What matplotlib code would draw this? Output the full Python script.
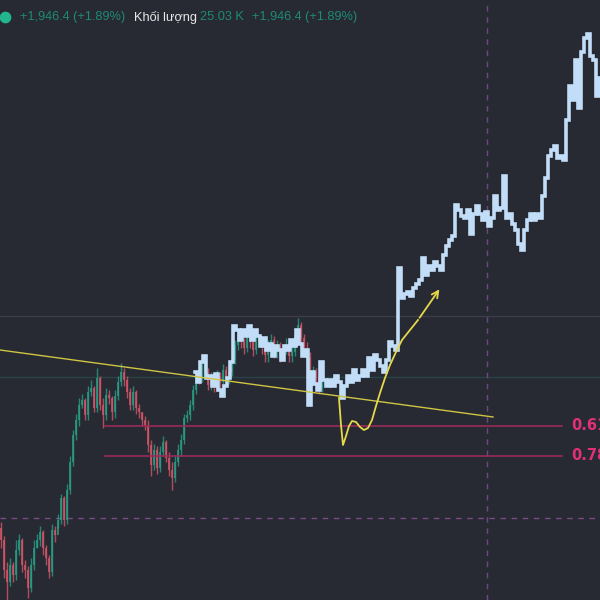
import numpy as np
import matplotlib
matplotlib.use("Agg")
import matplotlib.pyplot as plt

# ---- data (vertical values in chart pixel units, 0 = top) ----
candle_x0, candle_step = 1, 3
candle_open0 = 528
candle_close = [540, 570, 582, 565, 575, 550, 540, 565, 570, 588,
                565, 548, 540, 532, 548, 558, 572, 530, 535, 520,
                498, 520, 490, 462, 435, 420, 405, 400, 415, 392,
                388, 408, 378, 405, 415, 395, 398, 412, 396, 382,
                372, 380, 392, 405, 392, 408, 412, 420, 425, 445,
                465, 450, 468, 452, 442, 458, 470, 478, 462, 450,
                440, 418, 415, 405, 390, 375, 378, 365, 372, 385,
                378, 386, 376, 382, 370, 380, 372, 360, 345, 335,
                342, 348, 336, 342, 350, 338, 342, 348, 355, 345,
                340, 352, 346, 356, 350, 344, 356, 352, 335, 325,
                338, 348, 358, 378, 372, 378, 388, 382]
candle_high = [522, 536, 562, 558, 562, 540, 534, 538, 560, 566,
               558, 540, 534, 526, 530, 545, 555, 524, 526, 514,
               494, 496, 484, 456, 430, 414, 398, 394, 398, 386,
               380, 386, 368, 376, 398, 388, 390, 396, 390, 376,
               363, 368, 376, 388, 386, 390, 404, 412, 416, 420,
               440, 444, 446, 446, 436, 440, 452, 462, 456, 444,
               434, 414, 410, 400, 385, 370, 370, 360, 362, 368,
               372, 374, 370, 372, 364, 366, 366, 354, 340, 330,
               332, 338, 332, 334, 338, 332, 334, 338, 344, 340,
               334, 336, 340, 342, 344, 338, 340, 346, 330, 318,
               322, 334, 342, 352, 366, 368, 374, 376]
candle_low = [548, 578, 600, 586, 582, 580, 555, 572, 578, 598,
              592, 570, 548, 546, 555, 565, 578, 576, 542, 528,
              524, 526, 524, 494, 466, 440, 426, 408, 420, 420,
              396, 412, 412, 410, 428, 420, 404, 420, 418, 400,
              386, 386, 398, 410, 410, 414, 418, 426, 430, 452,
              476, 470, 474, 472, 456, 462, 476, 490, 482, 466,
              456, 444, 422, 420, 410, 394, 384, 382, 378, 390,
              390, 392, 390, 388, 386, 386, 384, 376, 364, 350,
              348, 354, 352, 348, 356, 354, 346, 354, 362, 362,
              350, 358, 358, 362, 360, 354, 362, 362, 356, 340,
              344, 354, 366, 395, 384, 386, 394, 392]

line_x0, line_step = 195, 3
line_y = [372, 382, 362, 356, 378, 376, 386, 374, 390, 396,
          386, 378, 362, 326, 330, 340, 330, 336, 326, 340,
          330, 336, 346, 338, 350, 344, 356, 346, 350, 360,
          346, 350, 340, 346, 330, 344, 356, 350, 405, 372,
          384, 390, 362, 380, 386, 380, 386, 376, 382, 398,
          386, 376, 382, 370, 380, 376, 370, 376, 358, 370,
          355, 360, 366, 372, 360, 342, 346, 350, 268, 298,
          294, 292, 296, 288, 284, 280, 258, 275, 266, 270,
          262, 266, 270, 255, 246, 240, 236, 205, 210, 216,
          218, 210, 234, 214, 206, 214, 220, 212, 226, 218,
          196, 210, 208, 176, 218, 214, 224, 230, 244, 250,
          230, 220, 214, 220, 214, 218, 196, 178, 156, 150,
          146, 158, 156, 160, 120, 86, 100, 60, 108, 52,
          38, 34, 56, 60, 96, 78]

trend_x = [0, 493]
trend_y = [350, 417]

path_x = [339, 341, 343, 346, 349, 352, 356, 360, 364, 368, 372, 376, 380, 385, 390, 396, 402, 410, 418]
path_y = [398, 425, 445, 436, 426, 421, 422, 427, 430, 428, 420, 406, 393, 378, 365, 352, 340, 330, 320]
arrow_end = (441, 287)

fib_levels = [426, 456]
fib_labels = ["0.61", "0.78"]
fib_x = [105, 562]

grid_gray_y = 316
grid_teal_y = 377
dash_h_y = 518
dash_v_x = 487

header_parts = [("+1,946.4 (+1.89%)", 20, "#1e8a76"),
                ("Khối lượng", 134, "#e8e8ea"),
                ("25.03 K", 200, "#1e8a76"),
                ("+1,946.4 (+1.89%)", 252, "#1e8a76")]

# ---- drawing ----
BG = "#272a33"
UP = "#2a9d84"
DN = "#d4566a"
LB = "#c2ddf8"

fig = plt.figure(figsize=(6, 6), dpi=100, facecolor=BG)
ax = fig.add_axes([0, 0, 1, 1])
ax.set_facecolor(BG)
ax.set_xlim(0, 600)
ax.set_ylim(600, 0)
ax.axis("off")

ax.axhline(grid_gray_y, color="#3b3e48", lw=1, zorder=1)
ax.axhline(grid_teal_y, color="#2a4446", lw=1, zorder=1)
ax.axhline(dash_h_y, color="#7a4a86", lw=1, ls=(0, (4, 4)), zorder=1)
ax.axvline(dash_v_x, color="#6a4a80", lw=1, ls=(0, (4, 4)), zorder=1)

opens = [candle_open0] + candle_close[:-1]
cx = candle_x0 + candle_step * np.arange(len(candle_close))
for x, o, c, h, l in zip(cx, opens, candle_close, candle_high, candle_low):
    col = UP if c < o else DN
    ax.vlines(x, h, l, color=col, lw=1, alpha=0.8, zorder=2)
    bot, top = max(o, c), min(o, c)
    ax.bar(x, max(bot - top, 1), bottom=top, width=2.0, color=col, alpha=0.8,
           lw=0, zorder=2)

for lvl in fib_levels:
    ax.plot(fib_x, [lvl, lvl], color="#9a2a5a", lw=1.2, zorder=3)
for lvl, lab in zip(fib_levels, fib_labels):
    ax.text(571, lvl, lab, color="#e0307a", fontsize=10.5, fontweight="bold",
            va="center", ha="left", family="DejaVu Sans", zorder=6)

lx = line_x0 + line_step * np.arange(len(line_y))
ax.plot(lx, line_y, color=LB, lw=2.6, drawstyle="steps-mid", zorder=4,
        solid_joinstyle="miter")

ax.plot(trend_x, trend_y, color="#cfc444", lw=1, zorder=5)
ax.plot(path_x, path_y, color="#e6d84a", lw=1.3, zorder=5)
ax.annotate("", xy=arrow_end, xytext=(path_x[-1], path_y[-1]),
            arrowprops=dict(arrowstyle="->", color="#e6d84a", lw=1.3,
                            mutation_scale=12), zorder=5)

ax.scatter([5], [17], s=55, color="#22b58e", zorder=6)
for txt, x, col in header_parts:
    ax.text(x, 17, txt, color=col, fontsize=9.2, va="center", ha="left",
            family="Liberation Sans", zorder=6)

fig.savefig("out.png", dpi=100, facecolor=BG)
